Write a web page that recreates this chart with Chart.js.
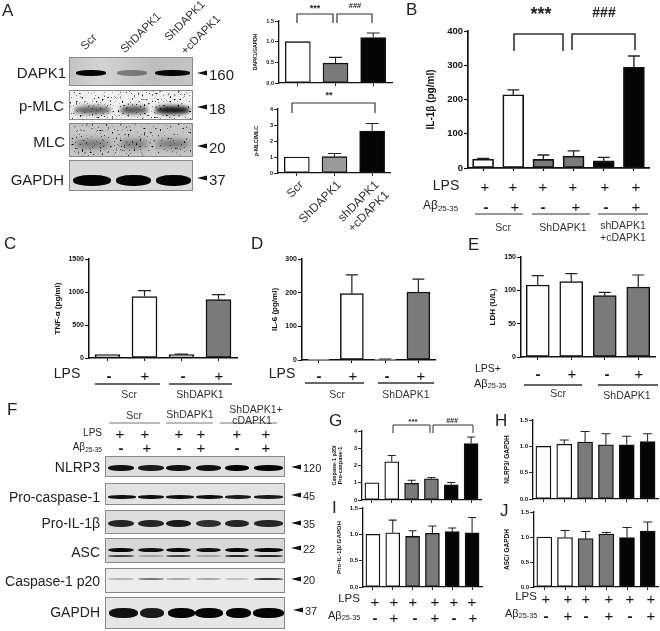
<!DOCTYPE html>
<html>
<head>
<meta charset="utf-8">
<script src="https://cdn.jsdelivr.net/npm/chart.js@4"></script>
<style>
html, body { margin: 0; padding: 0; background: #fff; }
#page { position: relative; width: 660px; height: 631px; overflow: hidden; font-family: "Liberation Sans", Arial, sans-serif; color: #222; }
#page canvas { position: absolute; }
#page svg.over { position: absolute; left: 0; top: 0; z-index: 5; }
.t { position: absolute; white-space: nowrap; line-height: 1; z-index: 6; }
.t sub { font-size: 0.66em; vertical-align: -0.25em; line-height: 0; }
.blot { position: absolute; overflow: hidden; border: 1px solid #8a8a8a; box-sizing: border-box; }
.band { position: absolute; background: #050505; border-radius: 45%; filter: blur(0.7px); }
.noise { position: absolute; inset: 0; mix-blend-mode: multiply; }
</style>
</head>
<body>
<div id="page"></div>
<script>
// values
const aTopValues = [1, 0.48, 1.1];
const aTopErr = [1, 0.62, 1.21];
const aTopTicks = ['0.0', '0.5', '1.0', '1.5'];
const aLowValues = [1, 1.02, 2.62];
const aLowErr = [1, 1.22, 3.1];
const aLowTicks = ['0', '1', '2', '3', '4'];
const aLowCategories = ['Scr', 'ShDAPK1', ['shDAPK1', '+cDAPK1']];

const bValues = [26, 214, 25, 35, 21, 294];
const bErr = [28, 228, 38, 50, 31, 327];
const bTicks = ['0', '100', '200', '300', '400'];

const cValues = [50, 930, 50, 885];
const cErr = [50, 1020, 60, 960];
const cTicks = ['0', '500', '1000', '1500'];

const dValues = [2, 197, 2, 202];
const dErr = [2, 253, 3, 240];
const dTicks = ['0', '100', '200', '300'];

const eValues = [108, 113, 92, 105];
const eErr = [122, 125, 97, 123];
const eTicks = ['0', '50', '100', '150'];

const gValues = [1, 2.22, 0.97, 1.23, 0.88, 3.27];
const gErr = [1, 2.58, 1.15, 1.3, 1.02, 3.65];
const gTicks = ['0', '1', '2', '3', '4'];

const hValues = [1, 1.04, 1.08, 1.03, 1.03, 1.09];
const hErr = [1, 1.12, 1.28, 1.24, 1.19, 1.24];
const iValues = [1, 1.03, 0.96, 1.02, 1.05, 1.03];
const iErr = [1, 1.27, 1.07, 1.16, 1.12, 1.32];
const jValues = [1, 0.99, 0.97, 1.06, 0.99, 1.12];
const jErr = [1, 1.13, 1.11, 1.09, 1.19, 1.3];
const ratioTicks = ['0.0', '0.5', '1.0', '1.5'];

// fill colours
const WHITE = '#ffffff', GRAY = '#7a7a7a', LIGHT = '#9a9a9a', BLACK = '#050505';
const threeFill = [WHITE, GRAY, BLACK];
const threeFillLow = [WHITE, LIGHT, BLACK];
const sixFill = [WHITE, WHITE, GRAY, GRAY, BLACK, BLACK];
const fourFill = [WHITE, WHITE, GRAY, GRAY];
const scrFill = [WHITE, WHITE, WHITE, GRAY];

// treatment rows
const lpsPlus = ['+', '+', '+', '+', '+', '+'];
const abetaSix = ['-', '+', '-', '+', '-', '+'];
const lpsFour = ['-', '+', '-', '+'];

// band strength of each blot lane
const dapk1Level = [1, 0.4, 1];
const pmlcLevel = [0.6, 0.65, 0.95];
const mlcLevel = [0.45, 0.45, 0.45];
const gapdhALevel = [1, 1, 1];
const nlrp3Level = [0.95, 0.9, 0.95, 0.95, 1, 1];
const procaspLevel = [0.95, 0.95, 0.95, 0.95, 0.9, 0.9];
const proil1bLevel = [0.85, 0.85, 0.9, 0.8, 0.85, 0.85];
const ascLevel = [1, 0.95, 1, 0.95, 1, 1];
const ascLowLevel = [0.7, 0.25, 0.7, 0.25, 0.85, 0.85];
const p20Level = [0.25, 0.5, 0.3, 0.3, 0.2, 0.8];
const gapdhFLevel = [0.95, 0.9, 1, 1, 1, 1];

const page = document.getElementById('page');
const svgNS = 'http://www.w3.org/2000/svg';
const over = document.createElementNS(svgNS, 'svg');
over.setAttribute('class', 'over');
over.setAttribute('width', 660);
over.setAttribute('height', 631);
page.appendChild(over);

const shape = (name, attrs) => {
    const el = document.createElementNS(svgNS, name);
    for (let k in attrs) el.setAttribute(k, attrs[k]);
    over.appendChild(el);
};
const txt = (html, x, y, size, opts = {}) => {
    const d = document.createElement('div');
    d.className = 't';
    d.innerHTML = html;
    const shift = opts.align === 'right' ? '-100%' : opts.align === 'left' ? '0' : '-50%';
    d.style.left = x + 'px';
    d.style.top = y + 'px';
    d.style.fontSize = size + 'px';
    d.style.color = opts.color || '#222';
    if (opts.bold) d.style.fontWeight = 'bold';
    if (opts.italic) d.style.fontStyle = 'italic';
    d.style.transform = `translate(${shift},-50%)` + (opts.rot ? ` rotate(${opts.rot}deg)` : '');
    page.appendChild(d);
};
const rule = (x1, x2, y, w = 1.2, c = '#333') => shape('line', { x1, x2, y1: y, y2: y, stroke: c, 'stroke-width': w });
const bracket = (x1, x2, y, yl, yr, w = 1.2) => shape('path', {
    d: `M${x1} ${yl} V${y} H${x2} V${yr}`, fill: 'none', stroke: '#333', 'stroke-width': w
});
const arrow = (x, y, n, size) => {
    shape('polygon', { points: `${x},${y} ${x + 10},${y - 2.4} ${x + 10},${y + 2.4}`, fill: '#111' });
    txt(n, x + 12, y + 0.5, size, { align: 'left' });
};
const signs = (list, xs, y, size = 15) => list.forEach((s, i) => txt(s, xs[i], y, size, { bold: s === '-', color: '#111' }));

// whiskers go through the chart's own scales
const errorBars = {
    id: 'errorBars',
    afterDatasetsDraw(chart) {
        const ds = chart.data.datasets[0];
        const yScale = chart.scales.y;
        const meta = chart.getDatasetMeta(0);
        const ctx = chart.ctx;
        ctx.save();
        ctx.strokeStyle = '#222';
        ctx.lineWidth = ds.errWidth;
        ds.errTop.forEach((top, i) => {
            if (top <= ds.data[i]) return;
            const x = meta.data[i].x;
            const y0 = yScale.getPixelForValue(ds.data[i]);
            const y1 = yScale.getPixelForValue(top);
            ctx.beginPath();
            ctx.moveTo(x, y0);
            ctx.lineTo(x, y1);
            ctx.moveTo(x - ds.capWidth / 2, y1);
            ctx.lineTo(x + ds.capWidth / 2, y1);
            ctx.stroke();
        });
        ctx.restore();
    }
};

const drawPanel = p => {
    const padTop = 8, padRight = 3;
    const bottomH = p.bottomH || 8;
    const titleSize = p.titleSize;
    const leftPad = Math.round(p.axisX - p.titleX + titleSize * 0.6);
    const canvas = document.createElement('canvas');
    canvas.width = leftPad + (p.right - p.axisX) + padRight;
    canvas.height = padTop + (p.zero - p.top) + bottomH;
    canvas.style.left = (p.axisX - leftPad) + 'px';
    canvas.style.top = (p.top - padTop) + 'px';
    page.appendChild(canvas);
    const line = p.line;
    new Chart(canvas, {
        type: 'bar',
        data: {
            labels: p.labels || p.values.map((v, i) => String(i + 1)),
            datasets: [{
                data: p.values,
                errTop: p.err,
                errWidth: p.errLine || line * 0.8,
                capWidth: p.cap,
                backgroundColor: p.fill,
                borderColor: '#111',
                borderWidth: line,
                borderSkipped: false,
                barThickness: p.barW
            }]
        },
        options: {
            responsive: false,
            animation: false,
            layout: { padding: { top: padTop, right: padRight, left: 0, bottom: 0 } },
            plugins: { legend: { display: false }, tooltip: { enabled: false } },
            scales: {
                x: {
                    grid: { offset: false, drawOnChartArea: false, tickLength: 3, tickWidth: line * 0.7, tickColor: '#111' },
                    border: { color: '#111', width: line },
                    ticks: {
                        display: !!p.labels,
                        autoSkip: false,
                        minRotation: 45,
                        maxRotation: 45,
                        padding: 2,
                        labelOffset: 5,
                        color: '#333',
                        font: { family: 'Liberation Sans', size: 12 }
                    },
                    afterFit: s => { s.height = bottomH; }
                },
                y: {
                    min: 0,
                    max: Number(p.ticks[p.ticks.length - 1]),
                    grid: { drawOnChartArea: false, tickLength: 4, tickWidth: line * 0.7, tickColor: '#111' },
                    border: { color: '#111', width: line },
                    afterBuildTicks: s => { s.ticks = p.ticks.map(v => ({ value: Number(v) })); },
                    ticks: {
                        padding: 1,
                        color: '#111',
                        font: { family: 'Liberation Sans', size: p.tickSize, weight: 'bold' },
                        callback: (v, i) => p.ticks[i]
                    },
                    title: {
                        display: true,
                        text: p.title,
                        color: '#111',
                        padding: 0,
                        font: { family: 'Liberation Sans', size: titleSize, weight: 'bold' }
                    },
                    afterFit: s => { s.width = leftPad; }
                }
            }
        },
        plugins: [errorBars]
    });
};

// ---- bar panels ----
drawPanel({ axisX: 279, top: 21, zero: 83, right: 392, values: aTopValues, err: aTopErr, fill: threeFill, ticks: aTopTicks,
    title: 'DAPK1/GAPDH', titleX: 256, titleSize: 5, tickSize: 5.5, barW: 25, cap: 13, line: 1.3 });
drawPanel({ axisX: 278, top: 109, zero: 173, right: 392, values: aLowValues, err: aLowErr, fill: threeFillLow, ticks: aLowTicks,
    title: 'p-MLC/MLC', titleX: 256, titleSize: 5.5, tickSize: 5.5, barW: 25, cap: 13, line: 1.3,
    labels: aLowCategories, bottomH: 60 });
drawPanel({ axisX: 468, top: 31, zero: 168, right: 649, values: bValues, err: bErr, fill: sixFill, ticks: bTicks,
    title: 'IL-1β (pg/ml)', titleX: 431, titleSize: 10, tickSize: 9.5, barW: 21, cap: 12, line: 1.7 });
drawPanel({ axisX: 89, top: 259, zero: 358, right: 237, values: cValues, err: cErr, fill: scrFill, ticks: cTicks,
    title: 'TNF-α (pg/ml)', titleX: 58, titleSize: 8, tickSize: 7, barW: 25, cap: 13, line: 1.5 });
drawPanel({ axisX: 302, top: 259, zero: 360, right: 435, values: dValues, err: dErr, fill: scrFill, ticks: dTicks,
    title: 'IL-6 (pg/ml)', titleX: 275, titleSize: 8, tickSize: 7, barW: 23, cap: 12, line: 1.5 });
drawPanel({ axisX: 521, top: 257, zero: 357, right: 655, values: eValues, err: eErr, fill: fourFill, ticks: eTicks,
    title: 'LDH (U/L)', titleX: 493, titleSize: 8, tickSize: 7, barW: 23, cap: 12, line: 1.5 });
drawPanel({ axisX: 362, top: 431, zero: 500, right: 481, values: gValues, err: gErr, fill: sixFill, ticks: gTicks,
    title: ['Caspase-1 p20/', 'Pro-caspase-1'], titleX: 334, titleSize: 5.5, tickSize: 5.5, barW: 14, cap: 8, line: 1.3 });
drawPanel({ axisX: 533, top: 420, zero: 499, right: 658, values: hValues, err: hErr, fill: sixFill, ticks: ratioTicks,
    title: 'NLRP3/ GAPDH', titleX: 507, titleSize: 6.5, tickSize: 6, barW: 15, cap: 9, line: 1.3 });
drawPanel({ axisX: 363, top: 508, zero: 587, right: 482, values: iValues, err: iErr, fill: sixFill, ticks: ratioTicks,
    title: 'Pro-IL-1β/ GAPDH', titleX: 340, titleSize: 6.2, tickSize: 6, barW: 14, cap: 8, line: 1.3 });
drawPanel({ axisX: 534, top: 512, zero: 587, right: 658, values: jValues, err: jErr, fill: sixFill, ticks: ratioTicks,
    title: 'ASC/ GAPDH', titleX: 507, titleSize: 6.5, tickSize: 6, barW: 15, cap: 9, line: 1.3 });

// ---- significance marks ----
bracket(297, 333, 14, 23, 23);
bracket(337, 372, 14, 23, 23);
txt('***', 315, 8, 9, { bold: true });
txt('###', 355, 6, 7.5, { bold: true });
bracket(292, 375, 103, 113, 113);
txt('**', 329, 95, 9, { bold: true });
bracket(514, 563, 34, 51, 51, 1.6);
bracket(572, 635, 34, 50, 50, 1.6);
txt('***', 541, 14, 18, { bold: true });
txt('###', 604, 12, 14, { bold: true });
bracket(393, 430, 425, 433, 433, 1);
bracket(433, 473, 425, 433, 433, 1);
txt('***', 413, 422, 8, { bold: true });
txt('###', 452, 420, 7, { bold: true, italic: true });

// ---- panel letters ----
[['A', 2, 10], ['B', 406, 9], ['C', 4, 243], ['D', 251, 243], ['E', 468, 244], ['F', 7, 409],
 ['G', 329, 420], ['H', 495, 420], ['I', 332, 507], ['J', 500, 510]].forEach(l => txt(l[0], l[1], l[2], 17, { align: 'left' }));

// ---- treatment rows ----
txt('LPS', 446, 185, 14);
txt('Aβ<sub>25-35</sub>', 423, 205, 12, { align: 'left' });
signs(lpsPlus, [485, 513, 543, 573, 605, 636], 186);
signs(abetaSix, [486, 515, 543, 576, 606, 636], 206);
rule(475, 523, 214); rule(532, 590, 214); rule(598, 648, 214);
txt('Scr', 503, 227, 10.5, { color: '#333' });
txt('ShDAPK1', 563, 227, 10.5, { color: '#333' });
txt('shDAPK1', 623, 225, 10.5, { color: '#333' });
txt('+cDAPK1', 623, 237, 10.5, { color: '#333' });

txt('LPS', 67, 373, 14);
signs(lpsFour, [109, 145, 183, 219], 375);
rule(95, 160, 384, 1.4); rule(169, 232, 384, 1.4);
txt('Scr', 129, 394, 10.5, { color: '#333' });
txt('ShDAPK1', 200, 394, 10.5, { color: '#333' });

txt('LPS', 282, 373, 14);
signs(lpsFour, [319, 353, 387, 421], 375);
rule(305, 364, 383, 1.4); rule(378, 434, 383, 1.4);
txt('Scr', 337, 394, 10.5, { color: '#333' });
txt('ShDAPK1', 406, 394, 10.5, { color: '#333' });

txt('LPS+', 475, 368, 10.5, { align: 'left' });
txt('Aβ<sub>25-35</sub>', 474, 383, 11, { align: 'left' });
signs(lpsFour, [538, 572, 607, 639], 373);
rule(524, 582, 385, 1.4); rule(598, 658, 385, 1.4);
txt('Scr', 558, 393, 10.5, { color: '#333' });
txt('ShDAPK1', 627, 395, 10.5, { color: '#333' });

txt('LPS', 349, 599, 11.5);
signs(lpsPlus, [375, 394, 413, 435, 454, 472], 601, 15);
txt('Aβ<sub>25-35</sub>', 328, 615, 11, { align: 'left' });
signs(abetaSix, [375, 394, 415, 435, 454, 473], 617, 15);

txt('LPS', 526, 597, 11.5);
signs(lpsPlus, [546, 568, 586, 609, 630, 651], 598, 15);
txt('Aβ<sub>25-35</sub>', 505, 613, 11, { align: 'left' });
signs(abetaSix, [546, 568, 586, 609, 630, 651], 615, 15);

// ---- blots ----
const noiseUrl = (seed, slope, shift) => 'url("data:image/svg+xml,' + encodeURIComponent(
    `<svg xmlns='http://www.w3.org/2000/svg' width='200' height='60'><filter id='n'><feTurbulence type='fractalNoise' baseFrequency='0.5' numOctaves='2' seed='${seed}'/><feColorMatrix values='0 0 0 0 0 0 0 0 0 0 0 0 0 0 0 0 0 0 ${slope} ${shift}'/></filter><rect width='200' height='60' filter='url(#n)'/></svg>`
) + '")';

const blot = (x, y, w, h, bg, rows, noise) => {
    const d = document.createElement('div');
    d.className = 'blot';
    d.style.cssText = `left:${x}px;top:${y}px;width:${w}px;height:${h}px;background:${bg};`;
    rows.forEach(r => r.level.forEach((lv, i) => {
        const b = document.createElement('div');
        b.className = 'band';
        const lane = r.lanes[i];
        b.style.cssText = `left:${lane[0] - x}px;width:${lane[1] - lane[0]}px;top:${r.y - y - r.h / 2}px;height:${r.h}px;opacity:${lv};`;
        if (r.blur) b.style.filter = `blur(${r.blur}px)`;
        d.appendChild(b);
    }));
    if (noise) {
        const n = document.createElement('div');
        n.className = 'noise';
        n.style.backgroundImage = noiseUrl(noise[0], noise[1], noise[2]);
        d.appendChild(n);
    }
    page.appendChild(d);
};

const aLanes = [[75, 105], [116, 146], [154, 189]];
const aLanesWide = [[73, 110], [119, 147], [154, 189]];
const fLanes = [[107, 133], [137, 163], [165, 190], [195, 220], [224, 248], [253, 282]];

blot(69, 57, 124, 29, 'linear-gradient(90deg,#c4c4c4,#d4d4d4 25%,#bdbdbd 70%,#c6c6c6)', [{ y: 72, h: 5.5, lanes: aLanes, level: dapk1Level }]);
blot(69, 90, 124, 30, '#f0f0f0', [{ y: 109, h: 8, blur: 2, lanes: aLanesWide, level: pmlcLevel }], [3, -9, 3.15]);
blot(69, 123, 124, 34, '#c6c6c6', [{ y: 143, h: 8, blur: 3, lanes: aLanesWide, level: mlcLevel }], [8, -9, 3.05]);
blot(69, 160, 124, 31, '#dadada', [{ y: 179, h: 11, lanes: [[72, 110], [115, 150], [155, 190]], level: gapdhALevel }]);

txt('DAPK1', 66, 72, 15, { align: 'right' });
txt('p-MLC', 64, 105, 15, { align: 'right' });
txt('MLC', 65, 141, 15, { align: 'right' });
txt('GAPDH', 64, 179, 15, { align: 'right' });
arrow(197, 73, '160', 15); arrow(197, 107, '18', 15); arrow(197, 146, '20', 15); arrow(197, 178, '37', 15);

txt('Scr', 89, 42, 11.5, { rot: -45, color: '#333' });
txt('ShDAPK1', 141, 33, 11.5, { rot: -45, color: '#333' });
txt('ShDAPK1', 185, 21, 11.5, { rot: -45, color: '#333' });
txt('+cDAPK1', 201, 35, 11.5, { rot: -45, color: '#333' });

txt('Scr', 134, 415, 10.5, { color: '#333' });
txt('ShDAPK1', 190, 414, 10.5, { color: '#333' });
txt('ShDAPK1+', 256, 409, 10.5, { color: '#333' });
txt('cDAPK1', 252, 420, 10.5, { color: '#333' });
rule(109, 160, 423, 1, '#777'); rule(166, 213, 423, 1, '#777'); rule(220, 277, 423, 1, '#777');
txt('LPS', 102, 433, 10, { align: 'right' });
txt('Aβ<sub>25-35</sub>', 102, 447, 10, { align: 'right' });
signs(lpsPlus, [120, 145, 179, 201, 237, 266], 433, 15);
signs(abetaSix, [121, 147, 179, 201, 237, 266], 447, 15);

blot(105, 456, 180, 21, '#dedede', [{ y: 467, h: 6, lanes: fLanes, level: nlrp3Level }]);
blot(105, 483, 180, 22, '#e2e2e2', [{ y: 496, h: 3.5, lanes: [[107, 135], [137, 163], [165, 193], [195, 222], [224, 250], [253, 282]], level: procaspLevel }]);
blot(105, 510, 180, 24, '#dcdcdc', [{ y: 522, h: 7, lanes: fLanes, level: proil1bLevel }]);
blot(105, 538, 180, 25, '#d8d8d8', [
    { y: 549, h: 4.5, lanes: fLanes, level: ascLevel },
    { y: 555, h: 2.5, lanes: fLanes, level: ascLowLevel }
]);
blot(105, 568, 180, 25, '#ededed', [{ y: 578, h: 1.8, blur: 0.6, lanes: fLanes, level: p20Level }]);
blot(105, 597, 180, 32, '#e6e6e6', [{ y: 612, h: 9.5, lanes: [[108, 137], [139, 163], [167, 194], [194, 222], [225, 250], [252, 283]], level: gapdhFLevel }]);

txt('NLRP3', 100, 467, 14, { align: 'right' });
txt('Pro-caspase-1', 100, 497, 14, { align: 'right' });
txt('Pro-IL-1β', 100, 523, 14, { align: 'right' });
txt('ASC', 100, 552, 14, { align: 'right' });
txt('Caspase-1 p20', 100, 581, 14, { align: 'right' });
txt('GAPDH', 100, 612, 14, { align: 'right' });
arrow(291, 467, '120', 11); arrow(291, 495, '45', 11); arrow(291, 523, '35', 11);
arrow(291, 548, '22', 11); arrow(291, 579, '20', 11); arrow(293, 610, '37', 11);
</script>
</body>
</html>
